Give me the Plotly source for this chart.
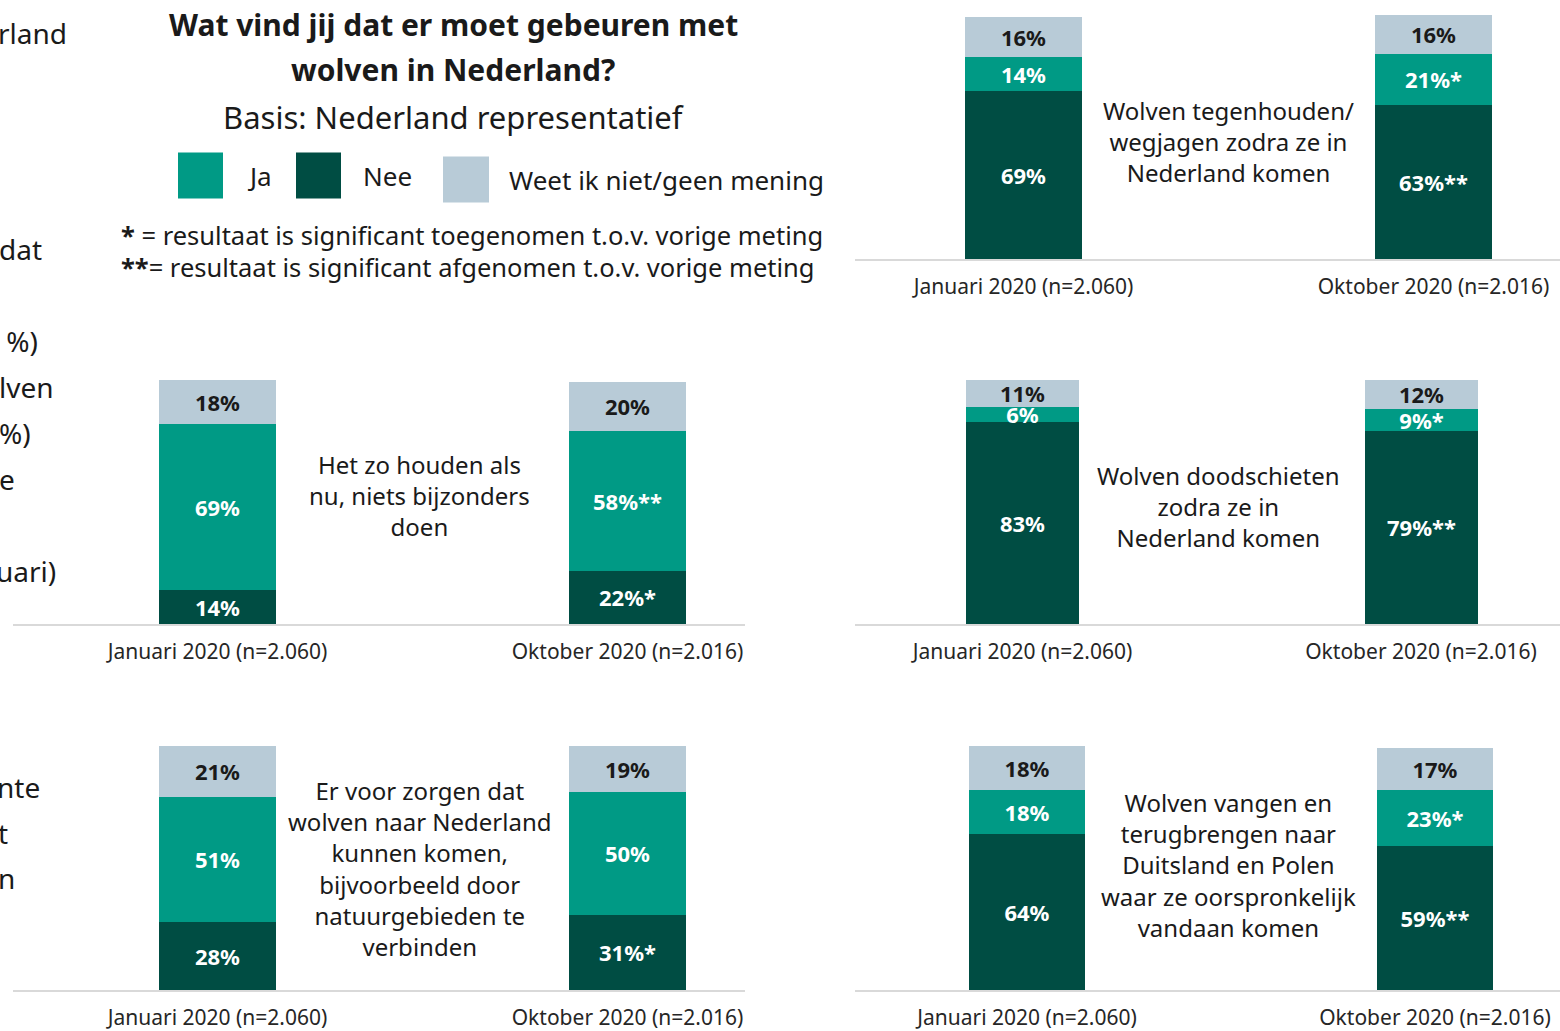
import plotly.graph_objects as go

W, H = 1560, 1031
FONT = "Noto Sans"

# ---------------- data ----------------
periods = ["Januari 2020 (n=2.060)", "Oktober 2020 (n=2.016)"]

statements = [
    ["Wolven tegenhouden/", "wegjagen zodra ze in", "Nederland komen"],
    ["Het zo houden als", "nu, niets bijzonders", "doen"],
    ["Wolven doodschieten", "zodra ze in", "Nederland komen"],
    ["Er voor zorgen dat", "wolven naar Nederland", "kunnen komen,",
     "bijvoorbeeld door", "natuurgebieden te", "verbinden"],
    ["Wolven vangen en", "terugbrengen naar", "Duitsland en Polen",
     "waar ze oorspronkelijk", "vandaan komen"],
]

ja_values = [[14, 21], [69, 58], [6, 9], [51, 50], [18, 23]]
nee_values = [[69, 63], [14, 22], [83, 79], [28, 31], [64, 59]]
weet_values = [[16, 16], [18, 20], [11, 12], [21, 19], [18, 17]]

ja_marks = [["", "*"], ["", "**"], ["", "*"], ["", ""], ["", "*"]]
nee_marks = [["", "**"], ["", "*"], ["", "**"], ["", "*"], ["", "**"]]
weet_marks = [["", ""], ["", ""], ["", ""], ["", ""], ["", ""]]

C_JA = "#009a85"
C_NEE = "#004d43"
C_WEET = "#b8cbd7"

# ---------------- layout of the panels (pixels) ----------------
panels = [
    dict(xd=(855, 1560), cx=(1023.5, 1433.5), bw=117, yb=260, yt=15, tx=1228, ty=142),
    dict(xd=(13, 745), cx=(217.5, 627.5), bw=117, yb=626, yt=381, tx=419, ty=497),
    dict(xd=(855, 1560), cx=(1022.5, 1421), bw=113, yb=626, yt=381, tx=1218, ty=508),
    dict(xd=(13, 745), cx=(217.5, 627.5), bw=117, yb=993, yt=748, tx=420, ty=871),
    dict(xd=(855, 1560), cx=(1027, 1435), bw=116, yb=993, yt=748, tx=1228, ty=868),
]


def px(x):
    return x / W


def py(y):
    return 1 - y / H


fig = go.Figure()
layout = {}
annotations = []

for i, p in enumerate(panels):
    n = "" if i == 0 else str(i + 1)
    xa, ya = "x" + n, "y" + n
    unit = p["cx"][1] - p["cx"][0]
    rng = [-(p["cx"][0] - p["xd"][0]) / unit, 1 + (p["xd"][1] - p["cx"][1]) / unit]
    bw = p["bw"] / unit
    ymax = max(100, max(a + b + c for a, b, c in zip(ja_values[i], nee_values[i], weet_values[i])))
    for name, vals, marks, col, tcol in [
        ("Nee", nee_values[i], nee_marks[i], C_NEE, "white"),
        ("Ja", ja_values[i], ja_marks[i], C_JA, "white"),
        ("Weet ik niet/geen mening", weet_values[i], weet_marks[i], C_WEET, "#1a1a1a"),
    ]:
        fig.add_trace(go.Bar(
            x=periods, y=vals, name=name, xaxis=xa, yaxis=ya,
            marker=dict(color=col, line=dict(width=0)),
            width=bw, showlegend=False,
            text=[f"{v}%{m}" for v, m in zip(vals, marks)],
            textposition="inside", insidetextanchor="middle", textangle=0,
            textfont=dict(family=FONT, size=22, color=tcol, weight="bold"),
            cliponaxis=False, hoverinfo="skip",
        ))
    layout["xaxis" + n] = dict(
        domain=[px(p["xd"][0]), px(p["xd"][1])], anchor=ya,
        type="category", range=rng, showgrid=False, zeroline=False,
        showline=True, linecolor="#d9d9d9", linewidth=2,
        ticks="", tickfont=dict(family=FONT, size=21, color="#262626"),
        ticklabelstandoff=8, fixedrange=True,
    )
    layout["yaxis" + n] = dict(
        domain=[py(p["yb"]), py(p["yt"])], anchor=xa, range=[0, ymax],
        visible=False, fixedrange=True,
    )
    annotations.append(dict(
        x=px(p["tx"]), y=py(p["ty"]), text="<br>".join(statements[i]),
        font=dict(family=FONT, size=24, color="#1a1a1a"),
    ))

# title and subtitle
annotations += [
    dict(x=px(453), y=py(25), text="<b>Wat vind jij dat er moet gebeuren met</b>",
         font=dict(family=FONT, size=30, color="#1a1a1a")),
    dict(x=px(453), y=py(70), text="<b>wolven in Nederland?</b>",
         font=dict(family=FONT, size=30, color="#1a1a1a")),
    dict(x=px(453), y=py(117), text="Basis: Nederland representatief",
         font=dict(family=FONT, size=31, color="#1a1a1a")),
]

# legend
legend_items = [
    ("Ja", C_JA, (178, 223, 153, 199), 245),
    ("Nee", C_NEE, (296, 341, 153, 199), 361),
    ("Weet ik niet/geen mening", C_WEET, (443, 489, 157, 203), 507),
]
shapes = []
for label, col, (x0, x1, y0, y1), lx in legend_items:
    shapes.append(dict(type="rect", xref="paper", yref="paper",
                       x0=px(x0), x1=px(x1), y0=py(y1), y1=py(y0),
                       fillcolor=col, line=dict(width=0)))
    annotations.append(dict(x=px(lx), y=py((y0 + y1) / 2 + 1), text=label, xanchor="left",
                            font=dict(family=FONT, size=26, color="#1a1a1a")))

annotations += [
    dict(x=px(119), y=py(236), xanchor="left",
         text="<b>*</b> = resultaat is significant toegenomen t.o.v. vorige meting",
         font=dict(family=FONT, size=25.5, color="#1a1a1a")),
    dict(x=px(119), y=py(268), xanchor="left",
         text="<b>**</b>= resultaat is significant afgenomen t.o.v. vorige meting",
         font=dict(family=FONT, size=25.5, color="#1a1a1a")),
]

# cut-off text fragments at the left edge of the slide
fragments = [("rland", -4, 33), ("dat", -3, 250), (" %)", -3, 342), ("lven", -3, 388),
             ("%)", -3, 434), ("e", -3, 480), ("uari)", -6, 573), ("nte", -5, 789),
             ("t", -4, 835), ("n", -4, 881)]
for t, fx, fy in fragments:
    annotations.append(dict(x=px(fx), y=py(fy), xanchor="left", text=t,
                            font=dict(family=FONT, size=28, color="#1a1a1a")))

for a in annotations:
    a.setdefault("xref", "paper")
    a.setdefault("yref", "paper")
    a.setdefault("showarrow", False)
    a.setdefault("yanchor", "middle")
    a.setdefault("xanchor", "center")

fig.update_layout(
    **layout,
    barmode="stack", bargap=0,
    width=W, height=H, margin=dict(l=0, r=0, t=0, b=0),
    paper_bgcolor="white", plot_bgcolor="white",
    annotations=annotations, shapes=shapes,
    uniformtext=dict(minsize=22, mode="show"),
    font=dict(family=FONT),
)

fig.write_html("out.html", config={"displayModeBar": False},
               post_script="document.body.style.margin='0';document.body.style.overflow='hidden';")
